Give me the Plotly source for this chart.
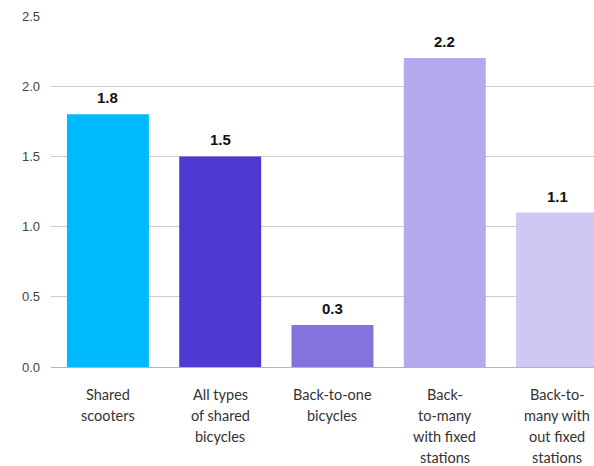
import plotly.graph_objects as go

# Category labels, one entry per line of text
label_lines = [
    ["Shared", "scooters"],
    ["All types", "of shared", "bicycles"],
    ["Back-to-one", "bicycles"],
    ["Back-", "to-many", "with fixed", "stations"],
    ["Back-to-", "many with", "out fixed", "stations"],
]
values = [1.8, 1.5, 0.3, 2.2, 1.1]
value_text = ["1.8", "1.5", "0.3", "2.2", "1.1"]
bar_colors = ["#00BAFF", "#4E3AD0", "#8472DD", "#B3AAEE", "#CFC8F2"]
y_ticks = [0, 0.5, 1.0, 1.5, 2.0, 2.5]
y_tick_text = ["0.0", "0.5", "1.0", "1.5", "2.0", "2.5"]

x = list(range(len(values)))

fig = go.Figure(
    go.Bar(
        x=x,
        y=values,
        marker=dict(color=bar_colors, line=dict(width=0)),
        hoverinfo="skip",
    )
)

annotations = []
# value labels above each bar
for xi, v, t in zip(x, values, value_text):
    annotations.append(dict(
        x=xi, y=v, xref="x", yref="y", text=f"<b>{t}</b>", showarrow=False,
        yanchor="bottom", yshift=6,
        font=dict(family="Arial, Liberation Sans, sans-serif", size=15, color="#111111"),
    ))
# multi-line category labels below the axis
for xi, lines in zip(x, label_lines):
    for i, line in enumerate(lines):
        annotations.append(dict(
            x=xi, y=0, xref="x", yref="y", text=line, showarrow=False,
            yanchor="middle", yshift=-(27 + 21 * i),
            font=dict(family="Lato, Open Sans, sans-serif", size=14.5, color="#333333"),
        ))

fig.update_layout(
    width=594,
    height=466,
    margin=dict(l=51, r=0, t=16, b=99),
    paper_bgcolor="white",
    plot_bgcolor="white",
    bargap=0.27,
    showlegend=False,
    annotations=annotations,
    xaxis=dict(
        range=[-0.507, 4.329],
        showticklabels=False,
        showgrid=False,
        zeroline=False,
        showline=False,
        ticks="",
    ),
    yaxis=dict(
        range=[0, 2.5],
        tickvals=y_ticks,
        ticktext=y_tick_text,
        showgrid=True,
        gridcolor="#cccccc",
        gridwidth=1,
        zeroline=True,
        zerolinecolor="#b5b5b5",
        zerolinewidth=1,
        showline=False,
        ticks="",
        ticklabelstandoff=10,
        tickfont=dict(family="Arial, Liberation Sans, sans-serif", size=13, color="#444444"),
    ),
)

fig.write_html("out.html")
